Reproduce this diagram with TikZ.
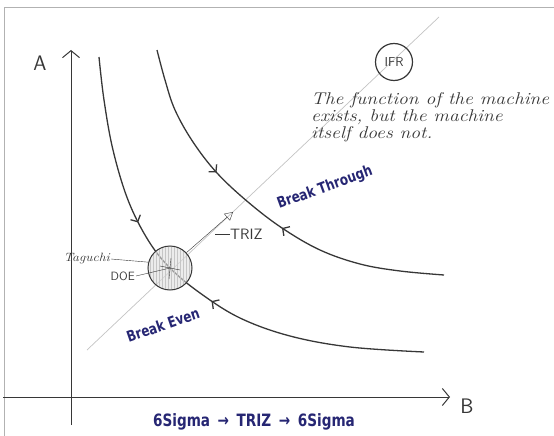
\documentclass[tikz,border=0pt]{standalone}
\usepackage{fontspec}
\newfontfamily\handfont[FakeStretch=1.15]{Latin Modern Roman}
\newfontfamily\labelfont[FakeStretch=0.8]{DejaVu Sans}
\usepackage{tikz}
\usetikzlibrary{arrows.meta,calc,positioning,decorations.markings,patterns}
\definecolor{pencil}{RGB}{55,55,55}
\definecolor{inkblue}{RGB}{38,38,115}
\definecolor{guideline}{RGB}{195,195,195}

\tikzset{
  pen/.style={draw=pencil, line width=1pt},
  curve/.style={draw=pencil, line width=1.3pt},
  faint/.style={draw=guideline, line width=0.7pt},
  axisarrow/.style={-{Straight Barb[length=7pt,width=17pt]}},
  bluetext/.style={text=inkblue, inner sep=0pt, font=\labelfont\bfseries\fontsize{15}{15}\selectfont},
  hand/.style={text=pencil, font=\handfont\itshape\fontsize{17}{17}\selectfont},
  small hand/.style={text=pencil, font=\handfont\itshape\fontsize{12}{12}\selectfont, inner sep=1pt},
}

\begin{document}
\begin{tikzpicture}[x=1pt,y=-1pt]
        \useasboundingbox (0,0) rectangle (554,436);
        % frame
        \draw[gray!60, line width=0.8pt] (4,436) -- (4,7) -- (554,7);
        % axes
        \coordinate (yfoot) at (71,425);
        \coordinate (ytip) at (71,50);
        \coordinate (xfoot) at (3,397);
        \coordinate (xtip) at (450,397);
        \draw[pen, axisarrow] (yfoot) -- (ytip);
        \draw[pen, axisarrow] (xfoot) -- (xtip);
        \node[text=pencil, font=\sffamily\fontsize{21}{21}\selectfont] (A) at (40,63) {A};
        \node[text=pencil, font=\sffamily\fontsize{21}{21}\selectfont] (B) at (467,406) {B};
        % diagonal
        \coordinate (dlow) at (87,350);
        \coordinate (dhigh) at (439,17);
        \draw[faint] (dlow) -- (dhigh);
        % curves
        \draw[curve, postaction={decorate}, decoration={markings,
            mark=at position 171pt with {\arrow{Straight Barb[length=5pt,width=11pt]}},
            mark=at position 280pt with {\arrowreversed{Straight Barb[length=5pt,width=11pt]}}}]
          plot[smooth, tension=0.6] coordinates {(99,57) (104,100) (113,150) (128,200) (148,240) (170,268)
            (200,293) (240,318) (290,336) (350,347) (424,352)};
        \draw[curve, postaction={decorate}, decoration={markings,
            mark=at position 138pt with {\arrow{Straight Barb[length=5pt,width=11pt]}},
            mark=at position 224pt with {\arrowreversed{Straight Barb[length=5pt,width=11pt]}}}]
          plot[smooth, tension=0.6] coordinates {(157,50) (165,80) (175,110) (193,142) (217,173) (248,202)
            (282,228) (320,250) (360,264) (400,271) (444,275)};
        % operating point
        \node[circle, pen, minimum size=44pt, inner sep=0pt, fill opacity=0.6,
              preaction={fill=gray!25}, pattern=vertical lines, pattern color=gray!45] (spot) at (170,268) {};
        \draw[pen, thin] (spot.center) +(-10,-2) -- +(10,2);
        \draw[pen, thin] (spot.center) +(1,-10) -- +(-1,11);
        \node[small hand, anchor=east] (taguchi) at (111,259) {Taguchi};
        \node[text=pencil, font=\sffamily\fontsize{12}{12}\selectfont, anchor=east, inner sep=1pt] (doe) at (136,276) {DOE};
        \draw[pen, thin] (taguchi.east) -- (spot.165);
        \draw[pen, thin] (doe.east) -- (spot.center);
        % TRIZ step
        \coordinate (trizhead) at (233,212);
        \draw[pen, thin, -{Triangle[open,length=8pt,width=9pt]}] (spot.43) -- (trizhead);
        \node[text=pencil, font=\sffamily\fontsize{15}{15}\selectfont, anchor=west, inner sep=0pt] (triz) at (230,234) {TRIZ};
        \coordinate (trizfoot) at (215,234);
        \draw[pen, thin] (trizfoot) -- (triz.west);
        % IFR
        \node[circle, pen, line width=1.2pt, minimum size=37pt, inner sep=0pt, text=pencil,
              font=\sffamily\fontsize{13}{13}\selectfont] (ifr) at (394,62) {IFR};
        \node[hand, align=left, anchor=north west, inner sep=0pt] (note) at (311,92)
          {The function of the machine\\exists, but the machine\\itself does not.};
        % blue labels
        \node[bluetext, rotate=20] (through) at (325,188) {Break Through};
        \node[bluetext, rotate=19] (even) at (163,325) {Break Even};
        \node[bluetext, font=\labelfont\bfseries\fontsize{17}{17}\selectfont] (flow) at (254,422)
          {6Sigma \,→\, TRIZ \,→\, 6Sigma};
\end{tikzpicture}
\end{document}
